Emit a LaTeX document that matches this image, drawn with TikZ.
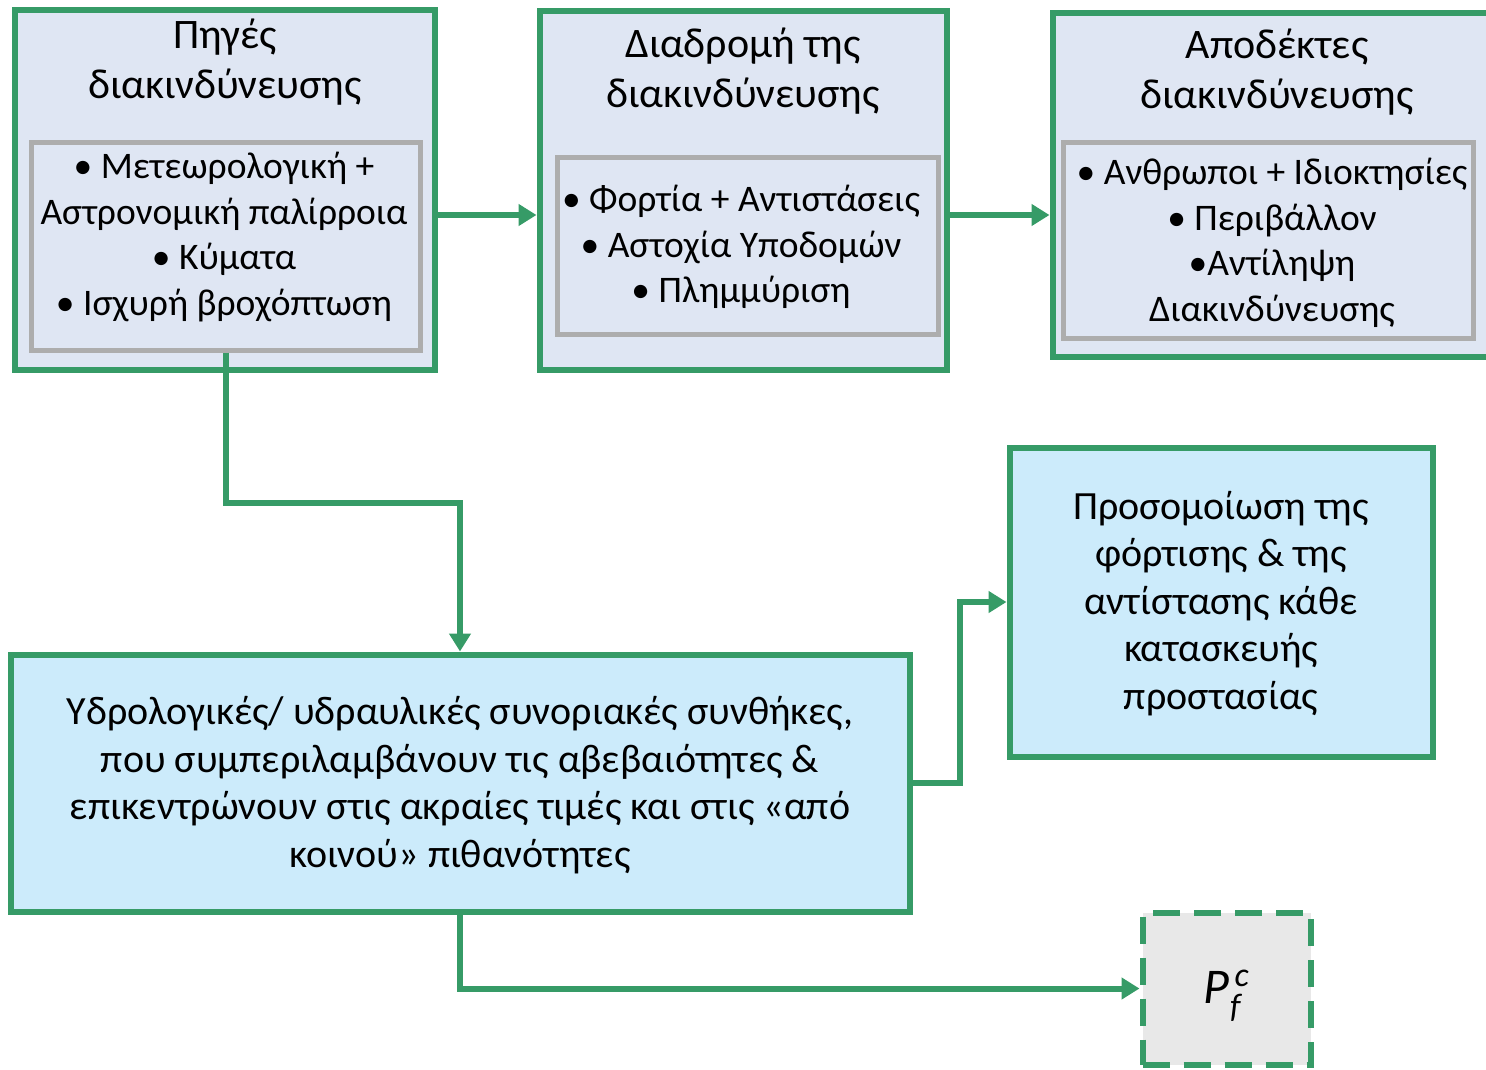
\documentclass[tikz,border=0pt]{standalone}
\usepackage{fontspec}
\setmainfont{Carlito}
\usetikzlibrary{arrows.meta}
\definecolor{frame}{HTML}{369B67}
\definecolor{paleblue}{HTML}{DFE6F3}
\definecolor{skyblue}{HTML}{CCEBFB}
\definecolor{innergray}{HTML}{ADADAD}
\definecolor{pfgray}{HTML}{E8E8E8}
\tikzset{
  outerbox/.style={draw=frame, line width=6pt, fill=paleblue, inner sep=0pt},
  innerbox/.style={draw=innergray, line width=5pt, inner sep=0pt},
  bluebox/.style={draw=frame, line width=6pt, fill=skyblue, inner sep=0pt},
  pfbox/.style={draw=frame, line width=6pt, fill=pfgray, inner sep=0pt, dash pattern=on 27pt off 14pt},
  txt/.style={align=center, inner sep=0pt, font=\fontsize{37.5}{45.5}\selectfont},
  title/.style={align=center, inner sep=0pt, font=\fontsize{42}{50}\selectfont},
  bigtxt/.style={align=center, inner sep=0pt, font=\fontsize{40}{47.5}\selectfont},
  flow/.style={draw=frame, line width=6pt, -{Triangle[length=18pt,width=21pt]}}
}
\begin{document}
\begin{tikzpicture}[x=1pt,y=-1pt]
\useasboundingbox (0,0) rectangle (1486,1069);

% three top stages
\node[outerbox, minimum width=420pt, minimum height=360pt] (src) at (225,190) {};
\node[innerbox, minimum width=389pt, minimum height=208pt] (srcin) at (226,246) {};
\node[title] (srct) at (225,62) {Πηγές\\διακινδύνευσης};
\node[txt] (srcl) at (224,237) {• Μετεωρολογική +\\Αστρονομική παλίρροια\\• Κύματα\\• Ισχυρή βροχόπτωση};

\node[outerbox, minimum width=407pt, minimum height=359pt] (path) at (743,190) {};
\node[innerbox, minimum width=381pt, minimum height=177pt] (pathin) at (748,246) {};
\node[title] (patht) at (743,71) {Διαδρομή της\\διακινδύνευσης};
\node[txt] (pathl) at (741,247) {• Φορτία + Αντιστάσεις\\• Αστοχία Υποδομών\\• Πλημμύριση};

\node[outerbox, minimum width=437pt, minimum height=344pt] (rec) at (1271,184.5) {};
\node[innerbox, minimum width=410pt, minimum height=196pt] (recin) at (1268.5,240.5) {};
\node[title] (rect) at (1277,72) {Αποδέκτες\\διακινδύνευσης};
\node[txt] (recl) at (1272,243) {• Ανθρωποι + Ιδιοκτησίες\\• Περιβάλλον\\•Αντίληψη\\Διακινδύνευσης};

% boundary conditions and structure simulation
\node[bluebox, minimum width=899pt, minimum height=257pt] (bc) at (460,783) {};
\node[bigtxt] (bct) at (460,785) {Υδρολογικές/ υδραυλικές συνοριακές συνθήκες,\\που συμπεριλαμβάνουν τις αβεβαιότητες \&\\επικεντρώνουν στις ακραίες τιμές και στις «από\\κοινού» πιθανότητες};

\node[bluebox, minimum width=423pt, minimum height=309pt] (sim) at (1221,602) {};
\node[bigtxt] (simt) at (1221,603.5) {Προσομοίωση της\\φόρτισης \& της\\αντίστασης κάθε\\κατασκευής\\προστασίας};

% failure probability
\node[pfbox, minimum width=168pt, minimum height=152pt] (pf) at (1226.5,988.5) {};
\node[inner sep=0pt, font=\fontsize{50}{50}\selectfont\itshape] (pft) at (1226,996)
  {P\kern1pt\raisebox{-14pt}{\fontsize{34}{34}\selectfont f}\kern-6pt\raisebox{17pt}{\fontsize{34}{34}\selectfont c}};

% connectors
\coordinate (k1) at (0,503);
\coordinate (k2) at (960,0);
\draw[flow] ([yshift=-25pt]src.east) -- ([yshift=-25pt]src.east -| path.west);
\draw[flow] ([yshift=-25pt]path.east) -- ([yshift=-25pt]path.east -| rec.west);
\draw[flow] (srcin.south) -- (srcin.south |- k1) -- (bc.north |- k1) -- (bc.north);
\draw[flow] (bc.east) -- (k2 |- bc.east) -- (k2 |- sim.west) -- (sim.west);
\draw[flow] (bc.south) -- (bc.south |- pf.west) -- (pf.west);
\end{tikzpicture}
\end{document}
